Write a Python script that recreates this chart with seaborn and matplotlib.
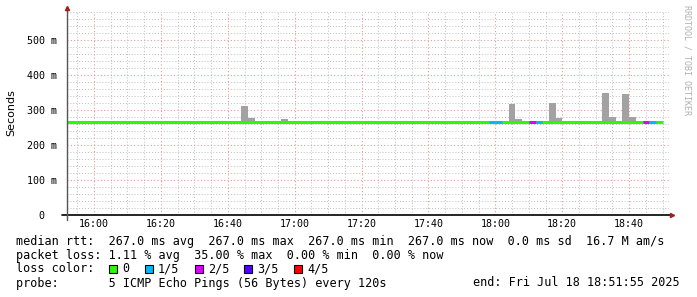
import matplotlib
matplotlib.use("Agg")
import matplotlib.pyplot as plt
import matplotlib.dates as mdates
from matplotlib.patches import Rectangle
from matplotlib.ticker import MultipleLocator, FuncFormatter
import seaborn as sns
import pandas as pd

# ---------------- data ----------------
day = "2025-07-18 "
window_start = "15:51:55"
window_end = "18:51:55"
line_start = "15:52"
line_end = "18:50"
median_rtt_ms = 267.0
step_minutes = 2

smoke_times = ["16:44", "16:46", "16:56", "18:04", "18:06", "18:16", "18:18",
               "18:32", "18:34", "18:38", "18:40"]
smoke_tops_ms = [311, 278, 274, 317, 274, 321, 278, 349, 281, 346, 281]

loss_times = ["17:58", "18:00", "18:10", "18:12", "18:44", "18:46"]
loss_levels = [1, 1, 2, 1, 2, 1]

loss_labels = ["0", "1/5", "2/5", "3/5", "4/5"]
loss_colors = ["#26ff00", "#00b8ff", "#dd00ff", "#5500ff", "#ff0000"]

legend_lines = [
    "median rtt:  267.0 ms avg  267.0 ms max  267.0 ms min  267.0 ms now  0.0 ms sd  16.7 M am/s",
    "packet loss: 1.11 % avg  35.00 % max  0.00 % min  0.00 % now",
]
probe_text = "probe:       5 ICMP Echo Pings (56 Bytes) every 120s"
end_text = "end: Fri Jul 18 18:51:55 2025"

# ---------------- style ----------------
sns.set_theme(style="white")
plt.rcParams["font.family"] = ["DejaVu Sans Mono", "DejaVu Sans"]

W, H = 697, 297
fig = plt.figure(figsize=(W / 100, H / 100), dpi=100)
fig.patch.set_facecolor("white")
ax = fig.add_axes([67 / W, (H - 215) / H, (669 - 67) / W, (215 - 12) / H])
ax.set_facecolor("white")

t = lambda s: pd.Timestamp(day + s)
step = pd.Timedelta(minutes=step_minutes)

# smoke bars
smoke_df = pd.DataFrame({"time": [t(s) for s in smoke_times], "top": smoke_tops_ms})
ax.bar(smoke_df["time"], smoke_df["top"] - median_rtt_ms, bottom=median_rtt_ms,
       width=step / pd.Timedelta(days=1), align="edge", color="#a2a2a2",
       linewidth=0, zorder=3)

# median line (green base)
line_df = pd.DataFrame({"time": [t(line_start), t(line_end)],
                        "rtt": [median_rtt_ms, median_rtt_ms]})
sns.lineplot(data=line_df, x="time", y="rtt", ax=ax, color=loss_colors[0],
             linewidth=2.2, zorder=4, solid_capstyle="butt")

# loss-coloured segments
for ts, lv in zip(loss_times, loss_levels):
    st = t(ts)
    ax.hlines(median_rtt_ms, st, st + step, colors=loss_colors[lv],
              linewidth=2.2, zorder=5, capstyle="butt")

# axes limits and ticks
ax.set_xlim(t(window_start), t(window_end))
ax.set_ylim(0, 580)
ax.xaxis.set_major_locator(mdates.MinuteLocator(byminute=[0, 20, 40]))
ax.xaxis.set_minor_locator(mdates.MinuteLocator(byminute=range(0, 60, 5)))
ax.xaxis.set_major_formatter(mdates.DateFormatter("%H:%M"))
ax.yaxis.set_major_locator(MultipleLocator(100))
ax.yaxis.set_minor_locator(MultipleLocator(20))
ax.yaxis.set_major_formatter(FuncFormatter(lambda v, p: "0  " if v == 0 else f"{int(v)} m"))

ax.grid(which="minor", color="#bdbdbd", linestyle=(0, (1, 2)), linewidth=0.7, zorder=1)
ax.grid(which="major", color="#e89a9a", linestyle=(0, (1, 2)), linewidth=0.8, zorder=2)

ax.tick_params(axis="x", which="both", length=0, pad=3, labelsize=7.2, colors="black")
ax.tick_params(axis="y", which="major", length=2, pad=5, labelsize=7.2, colors="black")
ax.tick_params(axis="y", which="minor", length=2, color="#888888")
ax.tick_params(axis="y", which="major", color="#888888")
for lab in ax.get_xticklabels() + ax.get_yticklabels():
    lab.set_fontfamily("DejaVu Sans Mono")

for sp in ax.spines.values():
    sp.set_visible(False)
ax.set_xlabel("")
ax.set_ylabel("")

# custom axis lines with arrows
ax.plot([-0.008, 1.003], [0, 0], transform=ax.transAxes, color="black",
        linewidth=1.2, clip_on=False, zorder=6)
ax.plot([0, 0], [-0.025, 1.015], transform=ax.transAxes, color="#555555",
        linewidth=1.0, clip_on=False, zorder=6)
ax.plot([1.005], [0], transform=ax.transAxes, marker=">", color="#a02020",
        markersize=3, clip_on=False, zorder=7)
ax.plot([0], [1.018], transform=ax.transAxes, marker="^", color="#a02020",
        markersize=3, clip_on=False, zorder=7)

# y label
fig.text(11 / W, 1 - 113 / H, "Seconds", rotation=90, ha="center", va="center",
         fontsize=8, family="DejaVu Sans", color="black")

# watermark
fig.text(687 / W, 1 - 60 / H, "RRDTOOL / TOBI OETIKER", rotation=270,
         ha="center", va="center", fontsize=6, color="#b0b0b0",
         family="DejaVu Sans Mono")

# legend text
fs = 8.5
cw = 7.1
x0 = 16
ys = [241, 255, 269, 283]
for y, line in zip(ys[:2], legend_lines):
    fig.text(x0 / W, 1 - y / H, line, ha="left", va="center", fontsize=fs,
             family="DejaVu Sans Mono", color="black")
fig.text(x0 / W, 1 - ys[2] / H, "loss color:", ha="left", va="center",
         fontsize=fs, family="DejaVu Sans Mono", color="black")
col = 13
for lab, colr in zip(loss_labels, loss_colors):
    sx = x0 + col * cw + 1
    fig.patches.append(Rectangle((sx / W, 1 - 273 / H), 8 / W, 8 / H,
                                 transform=fig.transFigure, facecolor=colr,
                                 edgecolor="black", linewidth=0.8))
    fig.text((x0 + (col + 2) * cw) / W, 1 - ys[2] / H, lab, ha="left",
             va="center", fontsize=fs, family="DejaVu Sans Mono", color="black")
    col = col + 2 + len(lab) + 2
fig.text(x0 / W, 1 - ys[3] / H, probe_text, ha="left", va="center",
         fontsize=fs, family="DejaVu Sans Mono", color="black")
fig.text(680 / W, 1 - ys[3] / H, end_text, ha="right", va="center",
         fontsize=fs, family="DejaVu Sans Mono", color="black")

fig.savefig("out.png", dpi=100, facecolor="white")
